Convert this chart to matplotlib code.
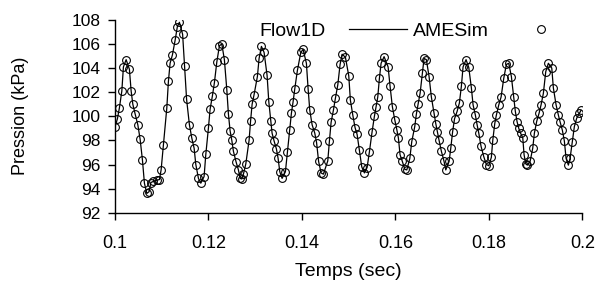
import matplotlib
matplotlib.use("Agg")
import matplotlib.pyplot as plt

plt.rcParams['font.family'] = ['Liberation Sans', 'DejaVu Sans']

# temps (s) et pression (kPa)
temps = [
    0.10006, 0.10056, 0.10098, 0.10150, 0.10184, 0.10242, 0.10312, 0.10349, 0.10385, 0.10434,
    0.10492, 0.10541, 0.10590, 0.10633, 0.10684, 0.10733, 0.10770, 0.10825, 0.10898, 0.10954,
    0.10990, 0.11039, 0.11112, 0.11146, 0.11182, 0.11232, 0.11289, 0.11338, 0.11381, 0.11450,
    0.11492, 0.11535, 0.11595, 0.11646, 0.11696, 0.11732, 0.11788, 0.11839, 0.11909, 0.11946,
    0.12001, 0.12038, 0.12087, 0.12130, 0.12181, 0.12237, 0.12288, 0.12343, 0.12395, 0.12429,
    0.12465, 0.12502, 0.12536, 0.12594, 0.12643, 0.12679, 0.12715, 0.12750, 0.12801, 0.12871,
    0.12904, 0.12936, 0.12978, 0.13049, 0.13085, 0.13135, 0.13192, 0.13256, 0.13293, 0.13336,
    0.13363, 0.13406, 0.13455, 0.13492, 0.13528, 0.13577, 0.13648, 0.13690, 0.13742, 0.13776,
    0.13812, 0.13849, 0.13904, 0.13977, 0.14026, 0.14097, 0.14133, 0.14169, 0.14219, 0.14276,
    0.14315, 0.14358, 0.14411, 0.14460, 0.14554, 0.14589, 0.14625, 0.14674, 0.14717, 0.14768,
    0.14817, 0.14860, 0.14931, 0.15003, 0.15037, 0.15089, 0.15138, 0.15181, 0.15230, 0.15281,
    0.15337, 0.15395, 0.15444, 0.15501, 0.15551, 0.15587, 0.15623, 0.15658, 0.15694, 0.15758,
    0.15844, 0.15886, 0.15935, 0.15987, 0.16030, 0.16064, 0.16100, 0.16149, 0.16201, 0.16244,
    0.16308, 0.16350, 0.16414, 0.16449, 0.16485, 0.16528, 0.16577, 0.16613, 0.16662, 0.16720,
    0.16769, 0.16827, 0.16863, 0.16898, 0.16934, 0.16983, 0.17041, 0.17077, 0.17148, 0.17184,
    0.17223, 0.17265, 0.17319, 0.17368, 0.17411, 0.17447, 0.17511, 0.17569, 0.17625, 0.17661,
    0.17710, 0.17747, 0.17783, 0.17832, 0.17890, 0.17945, 0.17997, 0.18052, 0.18082, 0.18125,
    0.18159, 0.18211, 0.18260, 0.18317, 0.18373, 0.18424, 0.18480, 0.18531, 0.18565, 0.18602,
    0.18638, 0.18677, 0.18724, 0.18752, 0.18788, 0.18822, 0.18880, 0.18937, 0.18972, 0.19023,
    0.19072, 0.19115, 0.19164, 0.19215, 0.19271, 0.19344, 0.19378, 0.19436, 0.19485, 0.19521,
    0.19570, 0.19613, 0.19650, 0.19699, 0.19735, 0.19784, 0.19827, 0.19878, 0.19934, 0.19970,
]
pression = [
    99.15, 99.8, 100.7, 102.1, 104.1, 104.7, 103.9, 102.1, 101.0, 100.2,
    99.3, 98.1, 96.4, 94.45, 93.6, 93.75, 94.5, 94.6, 94.7, 94.75,
    95.55, 97.6, 100.7, 102.9, 104.4, 105.1, 106.3, 107.45, 107.8, 106.8,
    104.2, 101.4, 99.3, 98.2, 97.35, 96.0, 94.85, 94.45, 95.0, 96.85,
    99.0, 100.6, 101.7, 102.8, 104.5, 105.85, 106.0, 104.7, 102.2, 100.2,
    98.8, 98.0, 97.1, 96.2, 95.55, 94.85, 94.8, 95.2, 96.05, 98.0,
    99.65, 101.0, 101.8, 103.3, 104.8, 105.8, 105.3, 103.4, 101.2, 99.6,
    98.6, 97.95, 97.3, 96.5, 95.4, 94.85, 95.4, 97.0, 98.9, 100.25,
    101.2, 102.3, 103.8, 105.3, 105.55, 104.4, 102.3, 100.5, 99.3, 98.6,
    97.8, 96.25, 95.3, 95.2, 96.3, 97.95, 99.5, 100.5, 101.5, 102.6,
    104.3, 105.15, 104.9, 103.35, 101.35, 100.1, 99.05, 98.5, 97.2, 95.8,
    95.3, 95.75, 97.05, 98.7, 100.0, 100.8, 101.6, 103.15, 104.4, 104.95,
    104.1, 102.5, 100.8, 99.7, 98.9, 98.2, 96.8, 96.25, 95.6, 95.55,
    96.5, 97.9, 99.15, 100.2, 101.0, 101.9, 103.6, 104.8, 104.7, 103.3,
    101.6, 100.25, 99.4, 98.7, 98.0, 97.1, 96.25, 95.55, 96.25, 97.35,
    98.7, 99.8, 100.4, 101.1, 102.5, 104.1, 104.7, 104.05, 102.35, 100.95,
    100.1, 99.3, 98.6, 97.5, 96.65, 96.0, 95.9, 96.6, 98.0, 99.4,
    100.1, 100.95, 101.6, 103.15, 104.3, 104.4, 103.3, 101.6, 100.4, 99.55,
    99.0, 98.6, 98.2, 96.8, 96.05, 95.95, 96.25, 97.35, 98.6, 99.6,
    100.25, 100.95, 101.9, 103.7, 104.4, 104.0, 102.35, 100.95, 100.1, 99.55,
    98.85, 97.95, 96.5, 95.95, 96.5, 97.9, 99.15, 99.85, 100.25, 100.5,
]

xticks = [0.1, 0.12, 0.14, 0.16, 0.18, 0.2]
xtick_labels = ["0.1", "0.12", "0.14", "0.16", "0.18", "0.2"]
yticks = [92, 94, 96, 98, 100, 102, 104, 106, 108]

fig = plt.figure(figsize=(5.98, 2.84), dpi=100)
ax = fig.add_axes([0.192, 0.251, 0.782, 0.679])

ax.plot(temps, pression, color="black", lw=0.9, label="Flow1D")
ax.plot(temps, pression, ls="none", marker="o", ms=5.6, mfc="none",
        mec="black", mew=0.8, label="AMESim")

ax.set_xlim(0.1, 0.2)
ax.set_ylim(92, 108)
ax.set_xticks(xticks)
ax.set_xticklabels(xtick_labels)
ax.set_yticks(yticks)
ax.tick_params(axis="both", length=5, width=1, direction="out")
ax.tick_params(axis="x", labelsize=13, pad=11)
ax.tick_params(axis="y", labelsize=12.5, pad=5)

for s in ["top", "right"]:
    ax.spines[s].set_visible(False)
for s in ["left", "bottom"]:
    ax.spines[s].set_linewidth(1)

ax.set_xlabel("Temps (sec)", fontsize=14)
ax.set_ylabel("Pression (kPa)", fontsize=13)
ax.xaxis.set_label_coords(0.5, -0.262)
ax.yaxis.set_label_coords(-0.183, 0.5)

ax.legend(loc="center right", bbox_to_anchor=(1.003, 0.94), ncol=2, frameon=False,
          markerfirst=False, fontsize=14, handlelength=3.0, columnspacing=0.3,
          handletextpad=1.2, borderpad=0.2)

fig.savefig("out.png", dpi=100)
